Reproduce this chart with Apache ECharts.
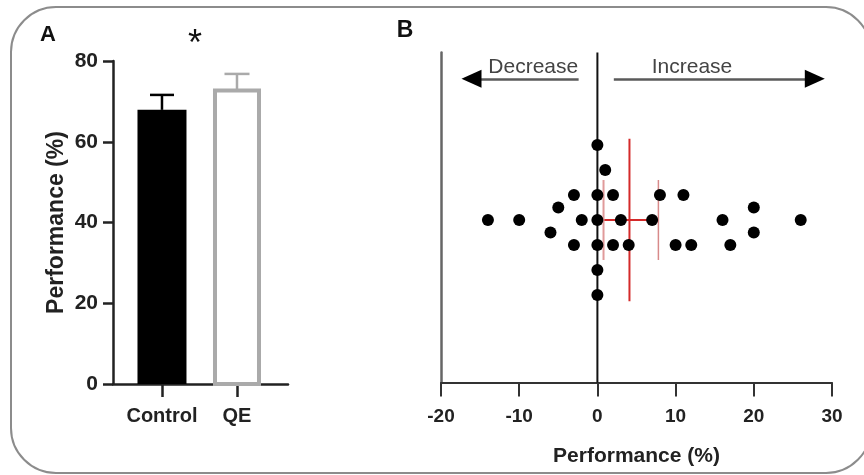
<!DOCTYPE html>
<html>
<head>
<meta charset="utf-8">
<script src="https://cdn.jsdelivr.net/npm/echarts@6/dist/echarts.min.js"></script>
<style>html,body{margin:0;padding:0;background:#fff;}#c{width:864px;height:475px;}</style>
</head>
<body>
<div id="c"></div>
<script>
// Panel A data
const groupsA = ['Control', 'QE'];
const meansA = [67.9, 72.7];
const upperA = [71.6, 76.8];
const ticksA = [0, 20, 40, 60, 80];

// Panel B data (change in performance, % ; vertical beeswarm offset)
const deltaB = [0, 1, -3, 0, 2, 8, 11, -5, 20, -14, -10, -2, 0, 3, 7, 16, 26, -6, 20, -3, 0, 2, 4, 10, 12, 17, 0, 0];
const offsetB = [6, 4, 2, 2, 2, 2, 2, 1, 1, 0, 0, 0, 0, 0, 0, 0, 0, -1, -1, -2, -2, -2, -2, -2, -2, -2, -4, -6];
const meanB = 4.1;
const ciB = [0.4, 7.8];
const ticksB = [-20, -10, 0, 10, 20, 30];
const arrowLabels = ['Decrease', 'Increase'];

const sans = "'Liberation Sans',Arial,sans-serif";

const chart = echarts.init(document.getElementById('c'), null, {renderer: 'canvas'});

const barData = groupsA.map((g, i) => [i + 1, meansA[i], upperA[i], i]);
const scatterData = deltaB.map((d, i) => [d, offsetB[i]]);
const ay = 11.3;

const option = {
  animation: false,
  backgroundColor: '#fff',
  graphic: [
    {type: 'rect', shape: {x: 11, y: 7, width: 860, height: 466, r: 45}, style: {fill: 'none', stroke: '#8c8c8c', lineWidth: 2}, z: 0},
    {type: 'text', x: 48, y: 35, style: {text: 'A', font: "bold 22px 'Liberation Sans',Arial", fill: '#111', align: 'center', verticalAlign: 'middle'}},
    {type: 'text', x: 405, y: 31, style: {text: 'B', font: "bold 23px 'Liberation Sans',Arial", fill: '#111', align: 'center', verticalAlign: 'middle'}},
    {type: 'text', x: 195, y: 45, style: {text: '*', font: "36px 'Liberation Sans',Arial", fill: '#111', align: 'center', verticalAlign: 'middle'}}
  ],
  grid: [
    {left: 113, top: 61, width: 175, height: 323},
    {left: 441, top: 52.5, width: 391, height: 330}
  ],
  xAxis: [
    {
      type: 'value', gridIndex: 0, min: 0.347, max: 2.68,
      axisLine: {show: true, lineStyle: {color: '#222', width: 2.5}},
      axisTick: {show: true, customValues: [1, 2], length: 13, lineStyle: {color: '#222', width: 2.5}},
      axisLabel: {customValues: [1, 2], formatter: v => groupsA[Math.round(v) - 1], margin: 22, fontSize: 20, fontWeight: 'bold', fontFamily: sans, color: '#222'},
      splitLine: {show: false}
    },
    {
      type: 'value', gridIndex: 1, min: -20, max: 30, interval: 10,
      axisLine: {show: true, onZero: false, lineStyle: {color: '#333', width: 2}},
      axisTick: {show: true, length: 14, lineStyle: {color: '#333', width: 2}},
      axisLabel: {margin: 25, fontSize: 19, fontWeight: 'bold', fontFamily: sans, color: '#222', formatter: v => String(v)},
      splitLine: {show: false},
      name: 'Performance (%)', nameLocation: 'middle', nameGap: 63,
      nameTextStyle: {fontSize: 21, fontWeight: 'bold', fontFamily: sans, color: '#222'}
    }
  ],
  yAxis: [
    {
      type: 'value', gridIndex: 0, min: 0, max: 80, interval: 20,
      axisLine: {show: true, lineStyle: {color: '#222', width: 2.5}},
      axisTick: {show: true, length: 10, lineStyle: {color: '#222', width: 2.5}},
      axisLabel: {margin: 15, fontSize: 21, fontWeight: 'bold', fontFamily: sans, color: '#222'},
      splitLine: {show: false},
      name: 'Performance (%)', nameLocation: 'middle', nameGap: 45,
      nameTextStyle: {fontSize: 23, fontWeight: 'bold', fontFamily: sans, color: '#222'}
    },
    {
      type: 'value', gridIndex: 1, min: -13, max: 13.4,
      axisLine: {show: true, onZero: false, lineStyle: {color: '#666', width: 2.5}},
      axisTick: {show: false}, axisLabel: {show: false}, splitLine: {show: false}
    }
  ],
  series: [
    {
      type: 'custom', xAxisIndex: 0, yAxisIndex: 0, z: 2,
      data: barData,
      renderItem: function (params, api) {
        const x = api.value(0), m = api.value(1), u = api.value(2), idx = api.value(3);
        const top = api.coord([x, m]);
        const base = api.coord([x, 0]);
        const up = api.coord([x, u]);
        const isCtrl = idx === 0;
        const w = isCtrl ? 49 : 44;
        const col = isCtrl ? '#000' : '#aaaaaa';
        const cap = isCtrl ? 24 : 25;
        return {
          type: 'group',
          children: [
            {type: 'line', shape: {x1: top[0], y1: top[1], x2: up[0], y2: up[1]}, style: {stroke: col, lineWidth: 2.5}},
            {type: 'line', shape: {x1: up[0] - cap / 2, y1: up[1], x2: up[0] + cap / 2, y2: up[1]}, style: {stroke: col, lineWidth: 2.5}},
            {type: 'rect', shape: {x: top[0] - w / 2, y: top[1], width: w, height: base[1] - top[1]},
             style: isCtrl ? {fill: '#000'} : {fill: '#fff', stroke: col, lineWidth: 4}}
          ]
        };
      }
    },
    {
      type: 'custom', xAxisIndex: 1, yAxisIndex: 1, z: 2,
      data: [[meanB, ciB[0], ciB[1]]],
      renderItem: function (params, api) {
        const m = api.value(0), lo = api.value(1), hi = api.value(2);
        const mt = api.coord([m, 6.5]), mb = api.coord([m, -6.5]);
        const l0 = api.coord([lo, 0]), h0 = api.coord([hi, 0]);
        const lt = api.coord([lo, 3.2]), lb = api.coord([lo, -3.2]);
        const ht = api.coord([hi, 3.2]), hb = api.coord([hi, -3.2]);
        return {
          type: 'group',
          children: [
            {type: 'line', shape: {x1: mt[0], y1: mt[1], x2: mb[0], y2: mb[1]}, style: {stroke: '#d42a2a', lineWidth: 2}},
            {type: 'line', shape: {x1: l0[0], y1: l0[1], x2: h0[0], y2: h0[1]}, style: {stroke: '#d42a2a', lineWidth: 2}},
            {type: 'line', shape: {x1: lt[0] + 3, y1: lt[1], x2: lb[0] + 3, y2: lb[1]}, style: {stroke: '#e09a9a', lineWidth: 2}},
            {type: 'line', shape: {x1: ht[0], y1: ht[1], x2: hb[0], y2: hb[1]}, style: {stroke: '#d88a8a', lineWidth: 1.5}}
          ]
        };
      }
    },
    {
      type: 'line', xAxisIndex: 1, yAxisIndex: 1, z: 3, symbol: 'none', clip: false,
      data: [[0, -13], [0, 13.4]],
      lineStyle: {color: '#111', width: 2}
    },
    {
      type: 'scatter', xAxisIndex: 1, yAxisIndex: 1, z: 4,
      data: scatterData, symbolSize: 12,
      itemStyle: {color: '#000', opacity: 1},
      markLine: {
        silent: true, symbol: ['none', 'none'], label: {show: false},
        lineStyle: {type: 'solid', color: '#5a5a5a', width: 2.5},
        data: [
          [{coord: [-16.1, ay]}, {coord: [-2.4, ay]}],
          [{coord: [2.1, ay]}, {coord: [27.8, ay]}],
          [{coord: [-15.0, ay], symbol: 'none', lineStyle: {color: '#000'}}, {coord: [-16.1, ay], symbol: 'triangle', symbolSize: [18, 20], lineStyle: {color: '#000'}}],
          [{coord: [26.7, ay], symbol: 'none', lineStyle: {color: '#000'}}, {coord: [27.8, ay], symbol: 'triangle', symbolSize: [18, 20], lineStyle: {color: '#000'}}]
        ]
      },
      markPoint: {
        silent: true, symbol: 'circle', symbolSize: 0,
        label: {show: true, position: 'inside', formatter: '{b}', fontSize: 21, fontFamily: sans, color: '#444'},
        data: [
          {name: arrowLabels[0], coord: [-8.2, 12.2]},
          {name: arrowLabels[1], coord: [12.1, 12.2]}
        ]
      }
    }
  ]
};
chart.setOption(option);
</script>
</body>
</html>
